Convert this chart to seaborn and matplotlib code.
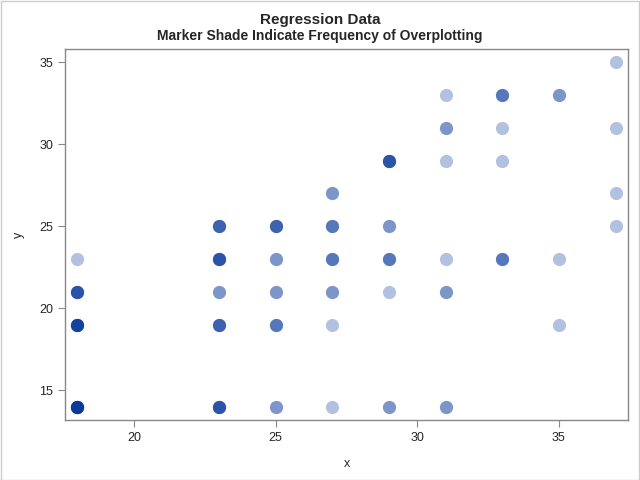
import numpy as np
import pandas as pd
import matplotlib
matplotlib.use("Agg")
import matplotlib.pyplot as plt
import seaborn as sns

# points and how many observations sit on each one
x_vals = [18, 18, 18, 18,
          23, 23, 23, 23, 23,
          25, 25, 25, 25, 25,
          27, 27, 27, 27, 27, 27,
          29, 29, 29, 29, 29,
          31, 31, 31, 31, 31, 31,
          33, 33, 33, 33,
          35, 35, 35,
          37, 37, 37, 37]
y_vals = [23, 21, 19, 14,
          25, 23, 21, 19, 14,
          25, 23, 21, 19, 14,
          27, 25, 23, 21, 19, 14,
          29, 25, 23, 21, 14,
          33, 31, 29, 23, 21, 14,
          33, 31, 29, 23,
          33, 23, 19,
          35, 31, 27, 25]
counts = [1, 5, 7, 9,
          4, 5, 2, 4, 5,
          4, 2, 2, 3, 2,
          2, 3, 3, 2, 1, 1,
          5, 2, 3, 1, 2,
          1, 2, 1, 1, 2, 2,
          3, 1, 1, 3,
          2, 1, 1,
          1, 1, 1, 1]

df = pd.DataFrame({
    "x": np.repeat(x_vals, counts),
    "y": np.repeat(y_vals, counts),
})

sns.set_style("white")
plt.rcParams["font.family"] = ["Liberation Sans Narrow", "Liberation Sans", "DejaVu Sans"]

fig = plt.figure(figsize=(6.4, 4.8), dpi=100)
ax = fig.add_axes([0.1016, 0.125, 0.8797, 0.773])

sns.scatterplot(data=df, x="x", y="y", ax=ax, color="#003399",
                alpha=0.3, s=90, linewidth=0)

ax.set_xlim(17.56, 37.44)
ax.set_ylim(13.2, 35.8)
ax.set_xticks([20, 25, 30, 35])
ax.set_yticks([15, 20, 25, 30, 35])
ax.set_xlabel("x", fontsize=9, labelpad=10)
ax.set_ylabel("y", fontsize=9, labelpad=10)
ax.tick_params(axis="both", direction="out", length=5, width=0.8,
               color="#888888", labelsize=9, bottom=True, left=True)
for sp in ax.spines.values():
    sp.set_color("#888888")
    sp.set_linewidth(1)

fig.text(0.5, 0.958, "Regression Data", ha="center", va="center",
         fontsize=11, fontweight="bold")
fig.text(0.5, 0.924, "Marker Shade Indicate Frequency of Overplotting",
         ha="center", va="center", fontsize=10, fontweight="bold")

fig.patches.append(plt.Rectangle((0.001, 0.001), 0.997, 0.997,
                                 transform=fig.transFigure, fill=False,
                                 edgecolor="#cccccc", linewidth=1))

plt.savefig("out.png", dpi=100)
